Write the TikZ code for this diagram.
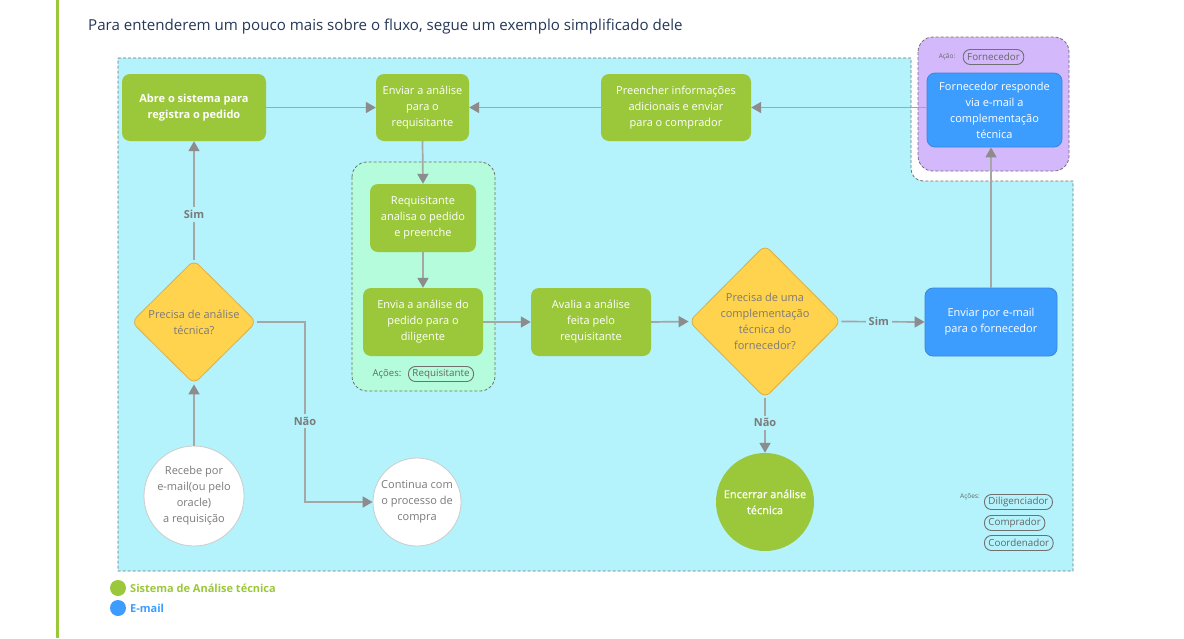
\documentclass[tikz,border=0pt]{standalone}
\usepackage{fontspec}
\setmainfont{Open Sans}
\usetikzlibrary{arrows.meta,shapes.geometric}
\definecolor{gr}{HTML}{9BC83A}
\definecolor{cy}{HTML}{B4F2FC}
\definecolor{mint}{HTML}{B4FCDB}
\definecolor{pu}{HTML}{D3B9FB}
\definecolor{bl}{HTML}{3D9DFF}
\definecolor{bld}{HTML}{3A86D8}
\definecolor{ye}{HTML}{FFD34D}
\definecolor{yed}{HTML}{D9B048}
\definecolor{ln}{HTML}{A6A6A6}
\definecolor{ah}{HTML}{8C8C8C}
\definecolor{tg}{HTML}{7A7A7A}
\definecolor{pg}{HTML}{666666}
\definecolor{ttl}{HTML}{253858}
\definecolor{dsh}{HTML}{707070}
\begin{document}
\begin{tikzpicture}[x=1pt,y=-1pt,
 box/.style={rounded corners=8pt, align=center, text=white, inner sep=0pt, font=\fontsize{11}{16}\selectfont},
 gbox/.style={box, fill=gr},
 bbox/.style={box, fill=bl, draw=bld, line width=0.8pt},
 dia/.style={diamond, fill=ye, draw=yed, line width=0.8pt, rounded corners=7pt, inner sep=0pt},
 diatext/.style={align=center, text=tg, font=\fontsize{11}{16}\selectfont},
 circtext/.style={align=center, text=tg, font=\fontsize{11}{16}\selectfont},
 wcirc/.style={circle, fill=white, draw=black!20, line width=0.8pt, inner sep=0pt},
 conn/.style={draw=ln, line width=1.7pt, -{Triangle[length=10pt,width=11pt,color=ah]}},
 elab/.style={fill=cy, text=tg, font=\bfseries\fontsize{11}{13}\selectfont, inner sep=3pt},
 grp/.style={draw=dsh, dash pattern=on 3pt off 2pt, line width=0.8pt},
 pill/.style={draw=dsh, rounded corners=7pt, text=pg, font=\fontsize{9.8}{11}\selectfont, inner xsep=4pt, inner ysep=1.5pt, line width=0.9pt, minimum height=15pt},
 acl/.style={text=pg, font=\fontsize{9.5}{11}\selectfont, inner sep=1pt},
 acs/.style={text=pg, font=\fontsize{6.5}{8}\selectfont, inner sep=1pt},
 leg/.style={anchor=west, font=\bfseries\fontsize{11}{13}\selectfont, inner sep=0pt}
]
\useasboundingbox (0,0) rectangle (1184,638);
\fill[white] (0,0) rectangle (1184,638);
% left bar
\fill[gr] (55.5,0) rectangle (58.5,638);
% title
\node[anchor=west, text=ttl, font=\fontsize{15.1}{18}\selectfont, inner sep=0pt] (title) at (88,27) {Para entenderem um pouco mais sobre o fluxo, segue um exemplo simplificado dele};
% cyan region
\path[grp, fill=cy] (118,58) -- (911,58) -- (911,169) arc[start angle=180, end angle=90, radius=12] -- (1073,181) -- (1073,571) -- (118,571) -- cycle;
% purple group
\path[grp, fill=pu, rounded corners=15pt] (918,37) rectangle (1069,171);
% mint group
\path[grp, fill=mint, rounded corners=15pt] (352,162) rectangle (495,391);

% nodes
\node[gbox, minimum width=144pt, minimum height=67pt, font=\bfseries\fontsize{11}{16}\selectfont] (abre) at (194,107.5) {Abre o sistema para\\registra o pedido};
\node[gbox, minimum width=93pt, minimum height=67pt] (enviar) at (422.5,107.5) {Enviar a análise\\para o\\requisitante};
\node[gbox, minimum width=150pt, minimum height=67pt] (preen) at (676,107.5) {Preencher informações\\adicionais e enviar\\para o comprador};
\node[bbox, minimum width=135pt, minimum height=74pt] (forn) at (994.5,110) {Fornecedor responde\\via e-mail a\\complementação\\técnica};
\node[gbox, minimum width=106pt, minimum height=68pt] (req) at (423,218) {Requisitante\\analisa o pedido\\e preenche};
\node[gbox, minimum width=120pt, minimum height=68pt] (envia) at (423,322) {Envia a análise do\\pedido para o\\diligente};
\node[gbox, minimum width=120pt, minimum height=68pt] (avalia) at (591,322) {Avalia a análise\\feita pelo\\requisitante};
\node[bbox, minimum width=132pt, minimum height=68pt] (email) at (991,322) {Enviar por e-mail\\para o fornecedor};

\node[dia, minimum width=125pt, minimum height=124pt] (d1) at (194,322) {};
\node[diatext] (d1t) at (d1.center) {Precisa de análise\\técnica?};
\node[dia, minimum width=152pt, minimum height=153pt] (d2) at (765,321.5) {};
\node[diatext] (d2t) at (d2.center) {Precisa de uma\\complementação\\técnica do\\fornecedor?};

\node[wcirc, minimum size=100pt] (rec) at (194,496) {};
\node[circtext] (rect) at (rec.center) {Recebe por\\e-mail(ou pelo\\oracle)\\a requisição};
\node[wcirc, minimum size=88pt] (cont) at (417,502) {};
\node[circtext] (contt) at (cont.center) {Continua com\\o processo de\\compra};
\node[circle, fill=gr, inner sep=0pt, minimum size=98pt] (enc) at (765,502) {};
\node[align=center, text=white, font=\fontsize{11}{16}\selectfont\addfontfeature{FakeBold=0.6}] (enct) at (enc.center) {Encerrar análise\\técnica};

% connectors
\coordinate (k) at (305,0);
\draw[conn] (abre.east) -- (enviar.west);
\draw[conn] (preen.west) -- (enviar.east);
\draw[conn] (preen.east -| forn.west) -- (preen.east);
\draw[conn] (enviar.south) -- (req.north);
\draw[conn] (req.south) -- (envia.north);
\draw[conn] (envia.east) -- (avalia.west);
\draw[conn] (avalia.east) -- (d2.west);
\draw[conn] (d2.east) -- node[elab, pos=0.45]{Sim} (email.west);
\draw[conn] (email.north) -- (email.north |- forn.south);
\draw[conn] (d2.south) -- node[elab, pos=0.45]{Não} (enc.north);
\draw[conn] (d1.north) -- node[elab, pos=0.38]{Sim} (abre.south);
\draw[conn] (rec.north) -- (d1.south);
\draw[conn] (d1.east) -- (d1.east -| k) -- node[elab, pos=0.55]{Não} (k |- cont.west) -- (cont.west);

% actions labels
\node[acl] (a1) at (387,374) {Ações:};
\node[pill] (p1) at (441,374) {Requisitante};
\node[acs] (a2) at (947,57) {Ação:};
\node[pill] (p2) at (993.5,57) {Fornecedor};
\node[acs] (a3) at (970,497) {Ações:};
\node[pill, anchor=west] (p3) at (984,502) {Diligenciador};
\node[pill, anchor=west] (p4) at (984,523) {Comprador};
\node[pill, anchor=west] (p5) at (984,543) {Coordenador};

% legend
\fill[gr] (118,588) circle (8);
\node[leg, text=gr] (l1) at (130,588) {Sistema de Análise técnica};
\fill[bl] (118,608) circle (8);
\node[leg, text=bl] (l2) at (130,608) {E-mail};
\end{tikzpicture}
\end{document}
